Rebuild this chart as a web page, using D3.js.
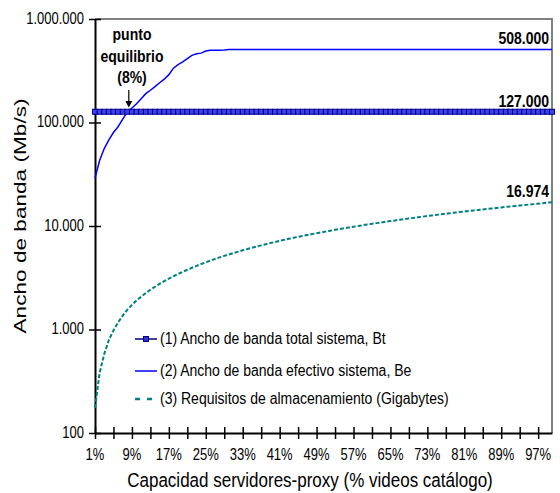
<!DOCTYPE html>
<html>
<head>
<meta charset="utf-8">
<script src="https://cdn.jsdelivr.net/npm/d3@7"></script>
<style>
  html, body { margin: 0; padding: 0; background: #fff; }
  svg { display: block; font-family: "Liberation Sans", Arial, sans-serif; }
</style>
</head>
<body>
<svg id="chart" width="560" height="493"></svg>
<script>
// Capacity of proxy servers, % of the video catalogue
const categories = [
  1,2,3,4,5,6,7,8,9,10,11,12,13,14,15,16,17,18,19,20,
  21,22,23,24,25,26,27,28,29,30,31,32,33,34,35,36,37,38,39,40,
  41,42,43,44,45,46,47,48,49,50,51,52,53,54,55,56,57,58,59,60,
  61,62,63,64,65,66,67,68,69,70,71,72,73,74,75,76,77,78,79,80,
  81,82,83,84,85,86,87,88,89,90,91,92,93,94,95,96,97,98,99,100
];

// (1) total system bandwidth, Bt (Mb/s)
const totalBandwidth = [
  127000,127000,127000,127000,127000,127000,127000,127000,127000,127000,
  127000,127000,127000,127000,127000,127000,127000,127000,127000,127000,
  127000,127000,127000,127000,127000,127000,127000,127000,127000,127000,
  127000,127000,127000,127000,127000,127000,127000,127000,127000,127000,
  127000,127000,127000,127000,127000,127000,127000,127000,127000,127000,
  127000,127000,127000,127000,127000,127000,127000,127000,127000,127000,
  127000,127000,127000,127000,127000,127000,127000,127000,127000,127000,
  127000,127000,127000,127000,127000,127000,127000,127000,127000,127000,
  127000,127000,127000,127000,127000,127000,127000,127000,127000,127000,
  127000,127000,127000,127000,127000,127000,127000,127000,127000,127000
];

// (2) effective system bandwidth, Be (Mb/s)
const effectiveBandwidth = [
  29000,43000,56000,68000,80000,91000,108000,126000,138000,152000,
  170000,190000,205000,222000,242000,262000,290000,335000,362000,385000,
  415000,445000,462000,468000,490000,498000,500000,500000,502000,506000,
  508000,508000,508000,508000,508000,508000,508000,508000,508000,508000,
  508000,508000,508000,508000,508000,508000,508000,508000,508000,508000,
  508000,508000,508000,508000,508000,508000,508000,508000,508000,508000,
  508000,508000,508000,508000,508000,508000,508000,508000,508000,508000,
  508000,508000,508000,508000,508000,508000,508000,508000,508000,508000,
  508000,508000,508000,508000,508000,508000,508000,508000,508000,508000,
  508000,508000,508000,508000,508000,508000,508000,508000,508000,508000
];

// (3) storage requirements (Gigabytes)
const storage = [
  175,380,580,790,980,1170,1360,1550,1730,1910,
  2080,2250,2420,2590,2760,2930,3100,3270,3440,3610,
  3780,3950,4120,4290,4460,4630,4800,4970,5140,5310,
  5480,5650,5820,5990,6160,6330,6500,6670,6840,7010,
  7180,7350,7520,7690,7860,8020,8190,8350,8520,8680,
  8850,9010,9180,9340,9510,9670,9840,10000,10170,10330,
  10500,10660,10830,10990,11160,11320,11490,11650,11820,11980,
  12150,12310,12480,12640,12810,12970,13140,13300,13470,13630,
  13800,13960,14130,14290,14460,14620,14790,14950,15120,15280,
  15450,15610,15780,15940,16110,16270,16440,16600,16790,16974
];

const yTicks = [100, 1000, 10000, 100000, 1000000];
const xTickEvery = 4;
const xLabelEvery = 8;

const legendLabels = [
  "(1) Ancho de banda total sistema, Bt",
  "(2) Ancho de banda efectivo sistema, Be",
  "(3) Requisitos de almacenamiento (Gigabytes)"
];
const endLabels = ["508.000", "127.000", "16.974"];
const equilibriumLines = ["punto", "equilibrio", "(8%)"];
const equilibriumAt = 8;

// ---------------------------------------------------------------
const svg = d3.select("#chart");
const L = 95, R = 552, T = 19, B = 433;
const STRETCH = 1.23; // text is drawn a little taller than wide

const esLocale = d3.formatLocale({ decimal: ",", thousands: ".", grouping: [3], currency: ["", ""] });
const fmt = esLocale.format(",d");

const x = d3.scalePoint().domain(categories).range([L, R]).padding(0);
const y = d3.scaleLog().domain([100, 1000000]).range([B, T]);

// text helper: places a label at (tx, ty) with vertical stretch
function stretchText(g, tx, ty, str, opts) {
  return g.append("text")
    .attr("transform", `translate(${tx},${ty}) scale(1,${STRETCH})`)
    .attr("text-anchor", opts.anchor || "start")
    .attr("font-size", opts.size || 13)
    .attr("font-weight", opts.weight || "normal")
    .attr("fill", "#000")
    .text(str);
}

// plot frame (top and right edges)
svg.append("path")
  .attr("d", `M${L},${T}H${R}V${B}`)
  .attr("fill", "none")
  .attr("stroke", "#808080")
  .attr("stroke-width", 2);

// y axis
const yAxis = d3.axisLeft(y).tickValues(yTicks).tickFormat(() => "").tickSizeOuter(0);
const gy = svg.append("g").attr("transform", `translate(${L},0)`).call(yAxis);
gy.select(".domain").attr("stroke", "#000").attr("stroke-width", 2);
gy.selectAll(".tick line").attr("x1", 6).attr("x2", -6).attr("stroke", "#000").attr("stroke-width", 1.5);
yTicks.forEach(v => {
  stretchText(svg, L - 11, y(v) + 4.5, fmt(v), { anchor: "end", size: 13 });
});

// x axis
const xTickVals = categories.filter((c, i) => i % xTickEvery === 0);
const xAxis = d3.axisBottom(x).tickValues(xTickVals).tickFormat(() => "").tickSizeOuter(0);
const gx = svg.append("g").attr("transform", `translate(0,${B})`).call(xAxis);
gx.select(".domain").attr("stroke", "#000").attr("stroke-width", 2);
gx.selectAll(".tick line").attr("y1", -6).attr("y2", 6).attr("stroke", "#000").attr("stroke-width", 1.5);
categories.forEach((c, i) => {
  if (i % xLabelEvery === 0) stretchText(svg, x(c), 460, c + "%", { anchor: "middle", size: 13 });
});

// axis titles
svg.append("text")
  .attr("transform", `translate(310,487) scale(1,${STRETCH})`)
  .attr("text-anchor", "middle").attr("font-size", 17)
  .text("Capacidad servidores-proxy (% videos catálogo)");
svg.append("text")
  .attr("transform", `translate(26,216) rotate(-90) scale(1.33,1)`)
  .attr("text-anchor", "middle").attr("font-size", 17)
  .text("Ancho de banda (Mb/s)");

// series lines
const line = vals => d3.line().x((d, i) => x(categories[i])).y(d => y(d))(vals);

svg.append("path").attr("d", line(storage))
  .attr("fill", "none").attr("stroke", "#008080").attr("stroke-width", 2)
  .attr("stroke-dasharray", "4,2");

svg.append("path").attr("d", line(effectiveBandwidth))
  .attr("fill", "none").attr("stroke", "#0000ff").attr("stroke-width", 1.5);

svg.append("path").attr("d", line(totalBandwidth))
  .attr("fill", "none").attr("stroke", "#000080").attr("stroke-width", 1.5);
svg.append("g").selectAll("rect").data(totalBandwidth).join("rect")
  .attr("x", (d, i) => x(categories[i]) - 2.5)
  .attr("y", d => y(d) - 2.5)
  .attr("width", 5).attr("height", 5)
  .attr("fill", "#4040e8").attr("stroke", "#000090").attr("stroke-width", 1);

// end-value labels
const endVals = [effectiveBandwidth[99], totalBandwidth[99], storage[99]];
endVals.forEach((v, i) => {
  stretchText(svg, 549, y(v) - 5, endLabels[i], { anchor: "end", size: 14, weight: "bold" });
});

// equilibrium annotation
const ex = x(equilibriumAt);
equilibriumLines.forEach((s, i) => {
  stretchText(svg, 132, 40 + i * 21.5, s, { anchor: "middle", size: 14, weight: "bold" });
});
svg.append("line").attr("x1", ex + 1.5).attr("x2", ex + 1.5).attr("y1", 90).attr("y2", 103)
  .attr("stroke", "#000").attr("stroke-width", 1.2);
svg.append("path")
  .attr("d", `M${ex + 1.5 - 3.5},${101}L${ex + 1.5 + 3.5},${101}L${ex + 1.5},${107.5}Z`)
  .attr("fill", "#000");

// legend
const legendY = [339, 371, 399];
const lg = svg.append("g");
// (1)
lg.append("line").attr("x1", 135).attr("x2", 157).attr("y1", legendY[0]).attr("y2", legendY[0])
  .attr("stroke", "#000080").attr("stroke-width", 1.5);
lg.append("rect").attr("x", 143.5).attr("y", legendY[0] - 2.5).attr("width", 5).attr("height", 5)
  .attr("fill", "#3030d0").attr("stroke", "#000080").attr("stroke-width", 1);
// (2)
lg.append("line").attr("x1", 135).attr("x2", 157).attr("y1", legendY[1]).attr("y2", legendY[1])
  .attr("stroke", "#0000ff").attr("stroke-width", 1.5);
// (3)
lg.append("line").attr("x1", 135).attr("x2", 157).attr("y1", legendY[2]).attr("y2", legendY[2])
  .attr("stroke", "#008080").attr("stroke-width", 2.5).attr("stroke-dasharray", "5,7");
legendLabels.forEach((s, i) => {
  stretchText(lg, 160, legendY[i] + 5, s, { anchor: "start", size: 14 });
});
</script>
</body>
</html>
